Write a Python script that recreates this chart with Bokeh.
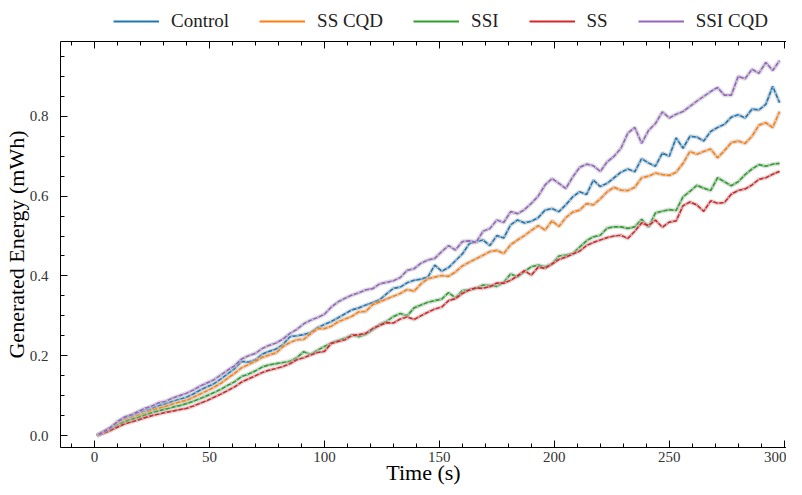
from bokeh.plotting import figure
from bokeh.layouts import column
from bokeh.models import Range1d, LinearAxis, Legend, LegendItem, SingleIntervalTicker, NumeralTickFormatter, CustomJSTickFormatter
from bokeh.embed import file_html
from bokeh.resources import INLINE

time_s = list(range(1, 299, 3))

control = [0.000, 0.009, 0.020, 0.032, 0.043, 0.048, 0.056, 0.062, 0.068, 0.075,
           0.080, 0.086, 0.091, 0.096, 0.104, 0.114, 0.122, 0.130, 0.142, 0.155,
           0.168, 0.186, 0.184, 0.190, 0.204, 0.211, 0.217, 0.228, 0.248, 0.250,
           0.253, 0.258, 0.270, 0.278, 0.286, 0.295, 0.305, 0.315, 0.320, 0.327,
           0.333, 0.340, 0.355, 0.369, 0.372, 0.383, 0.389, 0.392, 0.397, 0.427,
           0.412, 0.421, 0.438, 0.455, 0.481, 0.486, 0.490, 0.476, 0.501, 0.495,
           0.528, 0.540, 0.533, 0.537, 0.546, 0.565, 0.569, 0.561, 0.578, 0.598,
           0.611, 0.604, 0.640, 0.624, 0.632, 0.646, 0.660, 0.668, 0.661, 0.694,
           0.683, 0.675, 0.708, 0.700, 0.746, 0.720, 0.750, 0.748, 0.738, 0.762,
           0.772, 0.780, 0.798, 0.804, 0.796, 0.818, 0.816, 0.830, 0.875, 0.834]

ss_cqd = [0.000, 0.008, 0.018, 0.029, 0.038, 0.044, 0.050, 0.056, 0.063, 0.068,
          0.073, 0.079, 0.084, 0.088, 0.096, 0.104, 0.112, 0.121, 0.131, 0.144,
          0.156, 0.170, 0.178, 0.186, 0.196, 0.202, 0.207, 0.223, 0.233, 0.240,
          0.241, 0.255, 0.268, 0.268, 0.274, 0.285, 0.292, 0.299, 0.310, 0.311,
          0.328, 0.335, 0.342, 0.349, 0.356, 0.366, 0.362, 0.380, 0.393, 0.397,
          0.401, 0.399, 0.410, 0.425, 0.434, 0.443, 0.452, 0.461, 0.464, 0.456,
          0.478, 0.490, 0.501, 0.514, 0.526, 0.515, 0.538, 0.524, 0.546, 0.560,
          0.565, 0.581, 0.578, 0.593, 0.611, 0.622, 0.615, 0.614, 0.622, 0.646,
          0.650, 0.658, 0.654, 0.652, 0.660, 0.682, 0.712, 0.705, 0.712, 0.718,
          0.696, 0.714, 0.734, 0.738, 0.732, 0.750, 0.778, 0.784, 0.772, 0.812]

ssi = [0.000, 0.008, 0.016, 0.026, 0.034, 0.040, 0.045, 0.051, 0.057, 0.062,
       0.066, 0.071, 0.075, 0.080, 0.086, 0.093, 0.100, 0.108, 0.116, 0.126,
       0.135, 0.148, 0.154, 0.162, 0.172, 0.177, 0.180, 0.183, 0.186, 0.195,
       0.210, 0.203, 0.214, 0.223, 0.232, 0.238, 0.244, 0.252, 0.248, 0.254,
       0.265, 0.278, 0.286, 0.298, 0.306, 0.300, 0.320, 0.327, 0.334, 0.338,
       0.342, 0.358, 0.345, 0.363, 0.365, 0.369, 0.377, 0.376, 0.374, 0.384,
       0.405, 0.398, 0.411, 0.423, 0.427, 0.423, 0.430, 0.450, 0.452, 0.456,
       0.472, 0.488, 0.498, 0.502, 0.520, 0.523, 0.523, 0.519, 0.523, 0.542,
       0.522, 0.558, 0.562, 0.566, 0.564, 0.598, 0.612, 0.627, 0.620, 0.614,
       0.646, 0.636, 0.626, 0.636, 0.654, 0.668, 0.679, 0.675, 0.680, 0.682]

ss = [0.000, 0.006, 0.013, 0.021, 0.029, 0.034, 0.039, 0.045, 0.050, 0.054,
      0.058, 0.061, 0.065, 0.068, 0.074, 0.081, 0.088, 0.096, 0.104, 0.113,
      0.122, 0.134, 0.142, 0.150, 0.158, 0.164, 0.168, 0.173, 0.180, 0.190,
      0.195, 0.202, 0.208, 0.211, 0.231, 0.236, 0.240, 0.251, 0.253, 0.256,
      0.268, 0.276, 0.283, 0.282, 0.292, 0.297, 0.291, 0.300, 0.309, 0.317,
      0.322, 0.338, 0.343, 0.356, 0.365, 0.370, 0.369, 0.373, 0.382, 0.382,
      0.389, 0.400, 0.413, 0.402, 0.422, 0.419, 0.430, 0.441, 0.447, 0.455,
      0.462, 0.476, 0.484, 0.490, 0.496, 0.500, 0.502, 0.494, 0.512, 0.533,
      0.526, 0.540, 0.522, 0.535, 0.538, 0.576, 0.585, 0.578, 0.562, 0.588,
      0.582, 0.584, 0.605, 0.614, 0.618, 0.628, 0.642, 0.646, 0.655, 0.662]

ssi_cqd = [0.000, 0.010, 0.020, 0.035, 0.046, 0.052, 0.060, 0.068, 0.074, 0.082,
           0.086, 0.094, 0.100, 0.106, 0.114, 0.124, 0.132, 0.140, 0.152, 0.164,
           0.175, 0.192, 0.200, 0.206, 0.218, 0.226, 0.232, 0.242, 0.256, 0.266,
           0.280, 0.289, 0.296, 0.304, 0.322, 0.335, 0.344, 0.352, 0.358, 0.365,
           0.368, 0.380, 0.384, 0.388, 0.396, 0.414, 0.418, 0.432, 0.440, 0.444,
           0.461, 0.476, 0.465, 0.486, 0.488, 0.484, 0.512, 0.519, 0.540, 0.534,
           0.561, 0.556, 0.566, 0.582, 0.600, 0.628, 0.644, 0.632, 0.619, 0.648,
           0.672, 0.680, 0.676, 0.662, 0.686, 0.700, 0.720, 0.758, 0.772, 0.732,
           0.765, 0.782, 0.811, 0.796, 0.805, 0.812, 0.825, 0.838, 0.850, 0.862,
           0.872, 0.853, 0.853, 0.900, 0.894, 0.918, 0.908, 0.935, 0.915, 0.940]

labels = ["Control", "SS CQD", "SSI", "SS", "SSI CQD"]
series = [control, ss_cqd, ssi, ss, ssi_cqd]
colors = ["#1f77b4", "#ff7f0e", "#2ca02c", "#d62728", "#9467bd"]

FONT = "Liberation Serif"

# ---- legend strip above the plot ----
leg_fig = figure(width=786, height=36, output_backend="svg", toolbar_location=None,
                 x_range=Range1d(-14.8, 301), y_range=Range1d(-0.03, 0.9875),
                 x_axis_location=None, y_axis_location=None, min_border=0)
leg_fig.outline_line_color = None
leg_fig.xgrid.visible = False
leg_fig.ygrid.visible = False
leg_renderers = []
for vals, c in zip(series, colors):
    leg_renderers.append(leg_fig.line(time_s, vals, color=c, line_width=1.8, visible=False))
legend = Legend(items=[LegendItem(label=l, renderers=[r]) for l, r in zip(labels, leg_renderers)],
                orientation="horizontal", location=(53, 4),
                border_line_color=None, background_fill_alpha=0,
                glyph_width=46, glyph_height=16, label_standoff=12, spacing=30,
                padding=2, margin=0,
                label_text_font=FONT, label_text_font_size="19px", label_text_color="#222222")
leg_fig.add_layout(legend)

# ---- main plot ----
p = figure(width=786, height=451, output_backend="svg", toolbar_location=None,
           x_range=Range1d(-14.8, 301), y_range=Range1d(-0.03, 0.9875),
           min_border_left=58, min_border_right=0, min_border_top=5, min_border_bottom=20,
           x_axis_label="Time (s)", y_axis_label="Generated Energy (mWh)")
p.outline_line_color = None
p.xgrid.visible = False
p.ygrid.visible = False
p.background_fill_color = "white"

p.xaxis.ticker = SingleIntervalTicker(interval=50, num_minor_ticks=5)
p.yaxis.ticker = SingleIntervalTicker(interval=0.2, num_minor_ticks=4)
p.yaxis.formatter = NumeralTickFormatter(format="0.0")

for ax in (p.xaxis[0], p.yaxis[0]):
    ax.major_tick_in = 7
    ax.major_tick_out = 0
    ax.minor_tick_in = 4
    ax.minor_tick_out = 0
    ax.axis_line_color = "black"
    ax.major_tick_line_color = "black"
    ax.minor_tick_line_color = "black"
    ax.major_label_text_font = FONT
    ax.major_label_text_font_size = "15px"
    ax.major_label_text_color = "#333333"
    ax.axis_label_text_font = FONT
    ax.axis_label_text_font_size = "22px"
    ax.axis_label_text_font_style = "normal"
    ax.axis_label_text_color = "black"
p.xaxis.major_label_standoff = 4
p.xaxis.axis_label_standoff = -5
p.yaxis.major_label_standoff = 12
p.yaxis.axis_label_standoff = -2

top = LinearAxis(ticker=SingleIntervalTicker(interval=50, num_minor_ticks=5),
                 formatter=CustomJSTickFormatter(code="return '';"),
                 major_tick_in=7, major_tick_out=0, minor_tick_in=4, minor_tick_out=0,
                 major_label_text_font_size="1px", major_label_standoff=0)
p.add_layout(top, "above")

for vals, c in zip(series, colors):
    p.line(time_s, vals, color="#c4c4c4", line_width=4.5, line_alpha=0.5)
    p.line(time_s, vals, color=c, line_width=1.7)
    p.line(time_s, vals, color="#e2e2e2", line_width=1.2, line_dash="2 4", line_alpha=0.75)

layout = column(leg_fig, p, spacing=0)
open("out.html", "w").write(file_html(layout, INLINE))
